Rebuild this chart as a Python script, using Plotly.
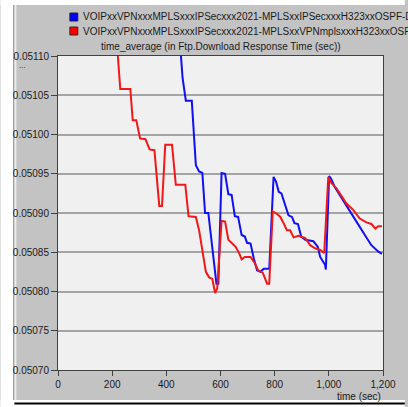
import plotly.graph_objects as go

# ---- data ----
series_names = [
    "VOIPxxVPNxxxMPLSxxxIPSecxxx2021-MPLSxxIPSecxxxH323xxOSPF-DES-1",
    "VOIPxxVPNxxxMPLSxxxIPSecxxx2021-MPLSxxVPNmplsxxxH323xxOSPF-DES-1",
]
blue_t = [440, 454, 460, 472, 494, 509, 521, 533, 543, 555, 585, 592, 604, 617, 629, 641, 653, 665,
          678, 690, 698, 711, 723, 735, 747, 760, 780, 796, 805, 815, 825, 839, 851, 864, 873, 886,
          898, 913, 927, 943, 959, 968, 986, 989, 1001, 1008, 1022, 1047, 1072, 1102, 1133, 1157,
          1182, 1196]
blue_v = [0.05130, 0.05110, 0.051072, 0.051043, 0.051043, 0.050961, 0.050953, 0.050951, 0.050900,
          0.050900, 0.050810, 0.050810, 0.050951, 0.050950, 0.050924, 0.050923, 0.050896, 0.050895,
          0.050872, 0.050870, 0.050862, 0.050861, 0.050842, 0.050827, 0.050825, 0.050829, 0.050829,
          0.050946, 0.050940, 0.050927, 0.050925, 0.050909, 0.050897, 0.050895, 0.050887, 0.050886,
          0.050870, 0.050866, 0.050865, 0.050864, 0.050857, 0.050844, 0.050834, 0.050828, 0.050947,
          0.050944, 0.050933, 0.050919, 0.050904, 0.050889, 0.050872, 0.050859, 0.050851, 0.050848]
red_t = [210, 221, 230, 267, 276, 289, 303, 323, 338, 356, 374, 384, 396, 421, 435, 470, 482, 509,
         521, 533, 546, 558, 570, 580, 588, 604, 617, 629, 643, 656, 670, 678, 690, 711, 727, 739,
         756, 772, 780, 793, 808, 821, 833, 845, 857, 870, 888, 913, 931, 949, 968, 983, 998, 1010,
         1029, 1047, 1065, 1090, 1114, 1139, 1157, 1172, 1182, 1196]
red_v = [0.05130, 0.05110, 0.051058, 0.051058, 0.051018, 0.051018, 0.050995, 0.050994, 0.050981,
         0.050980, 0.050909, 0.050909, 0.050987, 0.050987, 0.050936, 0.050936, 0.050896, 0.050895,
         0.050878, 0.050853, 0.050825, 0.050818, 0.050816, 0.050798, 0.050804, 0.050890, 0.050889,
         0.050866, 0.050861, 0.050857, 0.050848, 0.050841, 0.050844, 0.050844, 0.050836, 0.050827,
         0.050824, 0.050810, 0.050810, 0.050902, 0.050899, 0.050895, 0.050887, 0.050878, 0.050878,
         0.050869, 0.050871, 0.050868, 0.050859, 0.050855, 0.050853, 0.050849, 0.050946, 0.050938,
         0.050931, 0.050921, 0.050912, 0.050904, 0.050893, 0.050888, 0.050886, 0.050880, 0.050883,
         0.050883]
y_ticks = [0.05070, 0.05075, 0.05080, 0.05085, 0.05090, 0.05095, 0.05100, 0.05105, 0.05110]
x_ticks = [0, 200, 400, 600, 800, 1000, 1200]
x_tick_labels = ["0", "200", "400", "600", "800", "1,000", "1,200"]
title_text = "time_average (in Ftp.Download Response Time (sec))"
x_title = "time (sec)"

W, H = 408, 407
L, R, T, B = 58, 22, 56, 37
PW, PH = W - L - R, H - T - B


def px(x):
    return (x - L) / PW


def py(y):
    return (H - B - y) / PH


FONT = "Liberation Sans, Arial, sans-serif"
BLUE = "#1010f0"
RED = "#f01818"

fig = go.Figure()
fig.add_trace(go.Scatter(x=blue_t, y=blue_v, mode="lines", line=dict(color=BLUE, width=2),
                         name=series_names[0]))
fig.add_trace(go.Scatter(x=red_t, y=red_v, mode="lines", line=dict(color=RED, width=2),
                         name=series_names[1]))

shapes = [
    # white outer margins
    dict(type="rect", xref="paper", yref="paper", x0=px(0), x1=px(13), y0=py(H), y1=py(0),
         fillcolor="white", line=dict(width=0), layer="below"),
    dict(type="rect", xref="paper", yref="paper", x0=px(0), x1=px(W), y0=py(5), y1=py(0),
         fillcolor="white", line=dict(width=0), layer="below"),
    dict(type="rect", xref="paper", yref="paper", x0=px(0), x1=px(W), y0=py(H), y1=py(400),
         fillcolor="white", line=dict(width=0), layer="below"),
    # left border lines
    dict(type="line", xref="paper", yref="paper", x0=px(13.5), x1=px(13.5), y0=py(400), y1=py(5),
         line=dict(color="#7a7a7a", width=1), layer="below"),
    dict(type="line", xref="paper", yref="paper", x0=px(15), x1=px(15), y0=py(400), y1=py(5),
         line=dict(color="#ececec", width=2), layer="below"),
    # bottom black line
    dict(type="line", xref="paper", yref="paper", x0=px(14), x1=px(W), y0=py(403.5), y1=py(403.5),
         line=dict(color="#000000", width=2), layer="below"),
    # legend squares
    dict(type="rect", xref="paper", yref="paper", x0=px(70), x1=px(78), y0=py(21), y1=py(13),
         fillcolor="#0000ff", line=dict(color="#202040", width=1)),
    dict(type="rect", xref="paper", yref="paper", x0=px(70), x1=px(78), y0=py(35), y1=py(27),
         fillcolor="#ff0000", line=dict(color="#402020", width=1)),
]

annotations = [
    dict(text=series_names[0], xref="paper", yref="paper", x=px(81), y=py(17), xanchor="left",
         yanchor="middle", showarrow=False, font=dict(family=FONT, size=10, color="#1a1a1a")),
    dict(text=series_names[1], xref="paper", yref="paper", x=px(81), y=py(31.5), xanchor="left",
         yanchor="middle", showarrow=False, font=dict(family=FONT, size=10, color="#1a1a1a")),
    dict(text=title_text, xref="paper", yref="paper", x=px(222), y=py(47), xanchor="center",
         yanchor="middle", showarrow=False, font=dict(family=FONT, size=10, color="#1a1a1a")),
    dict(text=x_title, xref="paper", yref="paper", x=px(386), y=py(396), xanchor="right",
         yanchor="middle", showarrow=False, font=dict(family=FONT, size=10, color="#1a1a1a")),
    dict(text="...", xref="paper", yref="paper", x=px(17), y=py(65), xanchor="left",
         yanchor="middle", showarrow=False, font=dict(family=FONT, size=8, color="#1a1a1a")),
]

fig.update_layout(
    width=W, height=H,
    margin=dict(l=L, r=R, t=T, b=B, pad=0),
    paper_bgcolor="#c3c3c3",
    plot_bgcolor="#f0f0f0",
    showlegend=False,
    shapes=shapes,
    annotations=annotations,
    font=dict(family=FONT, size=10, color="#1a1a1a"),
)
fig.update_xaxes(
    range=[0, 1200], tickvals=x_ticks, ticktext=x_tick_labels,
    showgrid=False, zeroline=False,
    showline=True, linecolor="#404040", linewidth=1, mirror=True,
    ticks="outside", ticklen=5, tickcolor="#404040",
    tickfont=dict(family=FONT, size=10, color="#1a1a1a"),
)
fig.update_yaxes(
    range=[0.05070, 0.05110], tickvals=y_ticks, tickformat=".5f",
    showgrid=True, gridcolor="#a4a4a4", gridwidth=1.5, zeroline=False,
    showline=True, linecolor="#404040", linewidth=1, mirror=True,
    ticks="outside", ticklen=6, tickcolor="#404040",
    tickfont=dict(family=FONT, size=10, color="#1a1a1a"),
)

fig.write_html(
    "out.html",
    config={"displayModeBar": False},
    post_script="document.body.style.margin='0';document.body.style.overflow='hidden';",
)
